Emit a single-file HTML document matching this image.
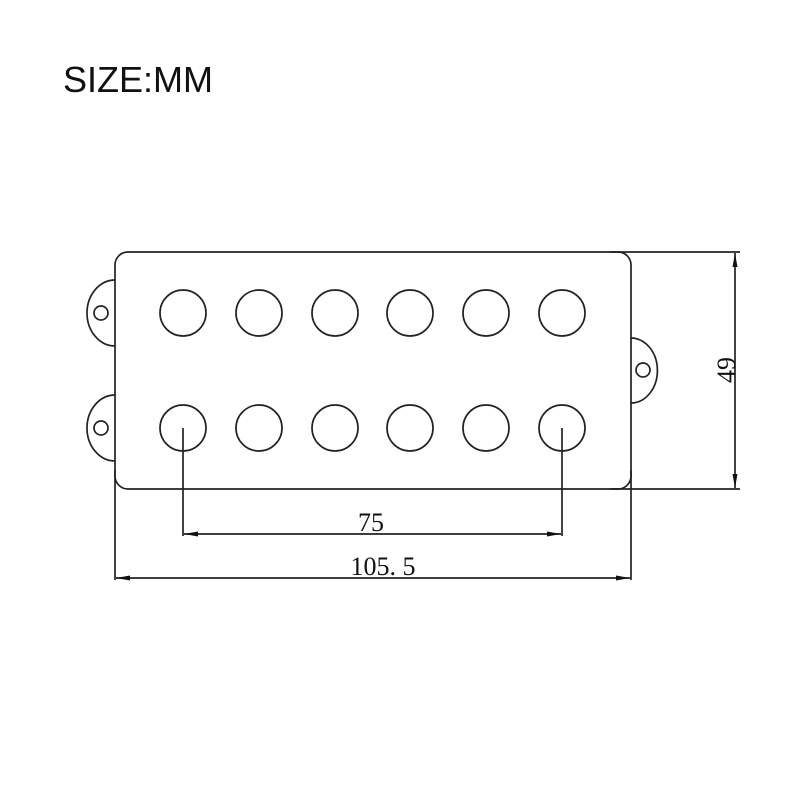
<!DOCTYPE html>
<html><head><meta charset="utf-8"><style>
html,body{margin:0;padding:0;background:#fff;}
svg{display:block;}
</style></head><body>
<svg width="801" height="801" viewBox="0 0 801 801" xmlns="http://www.w3.org/2000/svg">
<defs>
<marker id="a" viewBox="0 0 14 6" refX="14" refY="3" markerWidth="14" markerHeight="6" orient="auto" markerUnits="userSpaceOnUse">
<path d="M0,0.5 L14,3 L0,5.5 Z" fill="#111"/></marker>
</defs>
<text x="63" y="92" font-family="Liberation Sans, sans-serif" font-size="36" fill="#111">SIZE:MM</text>
<g fill="none" stroke="#222" stroke-width="1.7">
<path d="M115,280 A28,33 0 0 0 115,346"/>
<circle cx="101" cy="313" r="7"/>
<path d="M115,395 A28,33 0 0 0 115,461"/>
<circle cx="101" cy="428" r="7"/>
<path d="M631,338 A26,32 0 0 1 631,403"/>
<circle cx="643" cy="370" r="7"/>
<rect x="115" y="252" width="516" height="237" rx="13" fill="#fff"/>
<circle cx="183" cy="313" r="23"/><circle cx="259" cy="313" r="23"/><circle cx="335" cy="313" r="23"/>
<circle cx="410" cy="313" r="23"/><circle cx="486" cy="313" r="23"/><circle cx="562" cy="313" r="23"/>
<circle cx="183" cy="428" r="23"/><circle cx="259" cy="428" r="23"/><circle cx="335" cy="428" r="23"/>
<circle cx="410" cy="428" r="23"/><circle cx="486" cy="428" r="23"/><circle cx="562" cy="428" r="23"/>
<line x1="610" y1="252" x2="740" y2="252"/>
<line x1="610" y1="489" x2="740" y2="489"/>
<line x1="183" y1="428" x2="183" y2="536"/>
<line x1="562" y1="428" x2="562" y2="536"/>
<line x1="115" y1="470" x2="115" y2="580"/>
<line x1="631" y1="470" x2="631" y2="580"/>
<line x1="735" y1="370" x2="735" y2="253" marker-end="url(#a)"/>
<line x1="735" y1="370" x2="735" y2="488" marker-end="url(#a)"/>
<line x1="372" y1="534" x2="184" y2="534" marker-end="url(#a)"/>
<line x1="372" y1="534" x2="561" y2="534" marker-end="url(#a)"/>
<line x1="373" y1="578" x2="116" y2="578" marker-end="url(#a)"/>
<line x1="373" y1="578" x2="630" y2="578" marker-end="url(#a)"/>
</g>
<g font-family="Liberation Serif, serif" font-size="26" fill="#111" text-anchor="middle">
<text x="371" y="531">75</text>
<text x="383" y="575">105. 5</text>
<text transform="translate(735,370) rotate(-90)" y="0">49</text>
</g>
</svg>
</body></html>
